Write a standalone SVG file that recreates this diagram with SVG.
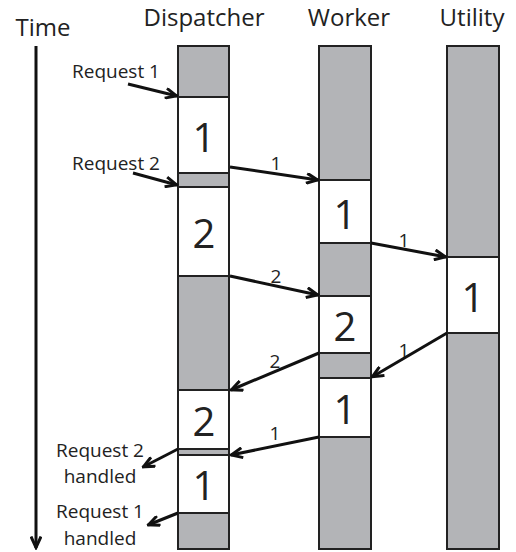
<svg xmlns="http://www.w3.org/2000/svg" width="516" height="552" viewBox="0 0 516 552">
<style>
.t{font-family:"Open Sans","Noto Sans","Liberation Sans",sans-serif;fill:#222}
.h{font-size:24px;text-anchor:middle}
.big{font-size:40px;text-anchor:middle}
.lab{font-size:19px}
.num{font-size:19px;text-anchor:middle}
.g{fill:#b3b4b7;stroke:#222;stroke-width:2}
.w{fill:#fff;stroke:#222;stroke-width:2}
.c{stroke:#111;stroke-width:3;fill:none;marker-end:url(#ah)}
</style>
<defs>
<marker id="ah" viewBox="0 0 14 12" refX="12.5" refY="6" markerWidth="14" markerHeight="12" markerUnits="userSpaceOnUse" orient="auto">
<path d="M1,1 L12,6 L1,11" fill="none" stroke="#111" stroke-width="3"/>
</marker>
</defs>
<rect width="516" height="552" fill="#fff"/>
<g id="titles">
<text class="t h" x="43" y="36">Time</text>
<text class="t h" x="204" y="26">Dispatcher</text>
<text class="t h" x="349" y="26">Worker</text>
<text class="t h" x="472" y="26">Utility</text>
</g>
<g id="dispatcher">
<rect class="g" x="178" y="46" width="51" height="503"/>
<rect class="w" x="178" y="97" width="51" height="76"/>
<rect class="w" x="178" y="187" width="51" height="89"/>
<rect class="w" x="178" y="390" width="51" height="59"/>
<rect class="w" x="178" y="455" width="51" height="58"/>
<text class="t big" x="204" y="152">1</text>
<text class="t big" x="204" y="248">2</text>
<text class="t big" x="204" y="436">2</text>
<text class="t big" x="204" y="500">1</text>
</g>
<g id="worker">
<rect class="g" x="319" y="46" width="52" height="503"/>
<rect class="w" x="319" y="180" width="52" height="63"/>
<rect class="w" x="319" y="296" width="52" height="57"/>
<rect class="w" x="319" y="378" width="52" height="59"/>
<text class="t big" x="345" y="229">1</text>
<text class="t big" x="345" y="341">2</text>
<text class="t big" x="345" y="424">1</text>
</g>
<g id="utility">
<rect class="g" x="447" y="46" width="52" height="503"/>
<rect class="w" x="447" y="257" width="52" height="76"/>
<text class="t big" x="473" y="312">1</text>
</g>
<g id="labels">
<text class="t lab" x="72" y="78">Request 1</text>
<text class="t lab" x="72" y="170">Request 2</text>
<text class="t lab" x="100" y="457" text-anchor="middle">Request 2</text>
<text class="t lab" x="100" y="483" text-anchor="middle">handled</text>
<text class="t lab" x="100" y="518" text-anchor="middle">Request 1</text>
<text class="t lab" x="100" y="545" text-anchor="middle">handled</text>
<text class="t num" x="276" y="170">1</text>
<text class="t num" x="276" y="283">2</text>
<text class="t num" x="404" y="247">1</text>
<text class="t num" x="404" y="357">1</text>
<text class="t num" x="275" y="368">2</text>
<text class="t num" x="275" y="440">1</text>
</g>
<g id="connectors">
<line class="c" x1="36" y1="46" x2="36" y2="548"/>
<line class="c" x1="128" y1="84" x2="177" y2="96"/>
<line class="c" x1="133" y1="173" x2="177" y2="185"/>
<line class="c" x1="230" y1="167" x2="318" y2="180"/>
<line class="c" x1="230" y1="276" x2="318" y2="295"/>
<line class="c" x1="371" y1="243" x2="446" y2="257"/>
<line class="c" x1="447" y1="333" x2="372" y2="377"/>
<line class="c" x1="319" y1="353" x2="231" y2="390"/>
<line class="c" x1="319" y1="437" x2="231" y2="455"/>
<line class="c" x1="178" y1="449" x2="143" y2="467"/>
<line class="c" x1="178" y1="513" x2="148" y2="525"/>
</g>
</svg>
